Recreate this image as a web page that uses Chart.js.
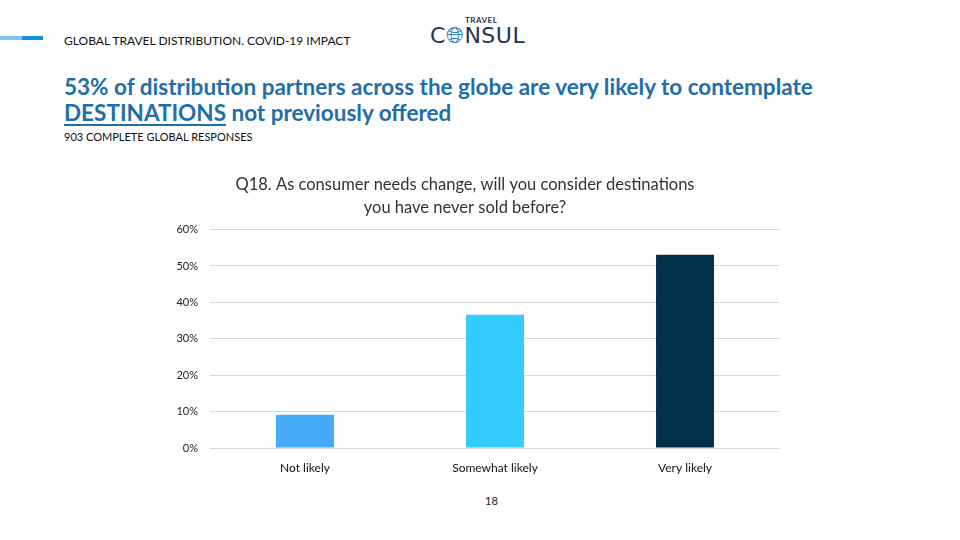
<!DOCTYPE html>
<html>
<head>
<meta charset="utf-8">
<script src="https://cdn.jsdelivr.net/npm/chart.js@4.4.1/dist/chart.umd.min.js"></script>
<style>
    body { margin: 0; width: 960px; height: 540px; position: relative; background: #fff; font-family: Lato, "Open Sans", sans-serif; overflow: hidden; }
    #grafica { position: absolute; left: 0; top: 0; }
    .barra1 { position: absolute; left: 0; top: 36px; width: 22px; height: 4px; background: #7cc4f2; }
    .barra2 { position: absolute; left: 22px; top: 36px; width: 21px; height: 4px; background: #1b8fd6; }
    .cabecera { position: absolute; left: 64px; top: 33px; font-size: 12px; color: #111; letter-spacing: 0px; }
    .logo-top { position: absolute; left: 465px; top: 15px; font-size: 8px; font-weight: bold; color: #1d3550; letter-spacing: 0.5px; }
    .logo { position: absolute; left: 430px; top: 23px; font-size: 22px; color: #1d3550; letter-spacing: 0.5px; font-family: "DejaVu Sans", sans-serif; }
    .logo span { color: #2a7fc4; }
    .titular { position: absolute; left: 64px; top: 74px; font-size: 22.5px; font-weight: bold; color: #226ea8; line-height: 26px; }
    .titular u { text-underline-offset: 3px; }
    .sub { position: absolute; left: 64px; top: 130px; font-size: 11px; color: #111; }
    .pagina { position: absolute; left: 485px; top: 494px; font-size: 11px; color: #222; }
</style>
</head>
<body>
<div class="barra1"></div><div class="barra2"></div>
<div class="cabecera">GLOBAL TRAVEL DISTRIBUTION. COVID-19 IMPACT</div>
<div class="logo-top">TRAVEL</div>
<div class="logo">C<span>&#x1F310;&#xFE0E;</span>NSUL</div>
<div class="titular">53% of distribution partners across the globe are very likely to contemplate<br><u>DESTINATIONS</u> not previously offered</div>
<div class="sub">903 COMPLETE GLOBAL RESPONSES</div>
<div class="pagina">18</div>
<canvas id="grafica" width="960" height="540"></canvas>
<script>
// datos
const categorias = ['Not likely', 'Somewhat likely', 'Very likely'];
const valores = [9.1, 36.6, 53.1];
const colores = ['#45abf9', '#33ccfd', '#003149'];
const tituloPregunta = ['Q18. As consumer needs change, will you consider destinations', 'you have never sold before?'];

document.addEventListener("DOMContentLoaded", function() {
    const ctx = document.getElementById('grafica').getContext('2d');

    new Chart(ctx, {
        type: 'bar',
        data: {
            labels: categorias,
            datasets: [{
                data: valores,
                backgroundColor: colores,
                borderWidth: 0,
                categoryPercentage: 1,
                barPercentage: 0.305
            }]
        },
        options: {
            responsive: false,
            animation: false,
            layout: {
                padding: { left: 150, right: 180, top: 174, bottom: 52 }
            },
            plugins: {
                legend: { display: false },
                tooltip: { enabled: false },
                title: {
                    display: true,
                    text: tituloPregunta,
                    color: '#333',
                    font: { family: 'Lato', size: 16.5, weight: 'normal', lineHeight: 1.35 },
                    padding: { top: 0, bottom: 11 }
                }
            },
            scales: {
                y: {
                    min: 0,
                    max: 60,
                    ticks: {
                        stepSize: 10,
                        padding: 12,
                        color: '#222',
                        font: { family: 'Lato', size: 11 },
                        callback: v => v + '%'
                    },
                    grid: { color: '#d9d9d9', drawTicks: false },
                    border: { display: false },
                    afterFit: function(scale) { scale.width = 60; }
                },
                x: {
                    ticks: {
                        padding: 5,
                        color: '#111',
                        font: { family: 'Lato', size: 12 }
                    },
                    grid: { display: false },
                    border: { display: false },
                    afterFit: function(scale) { scale.height = 40; }
                }
            }
        }
    });
});
</script>
</body>
</html>
